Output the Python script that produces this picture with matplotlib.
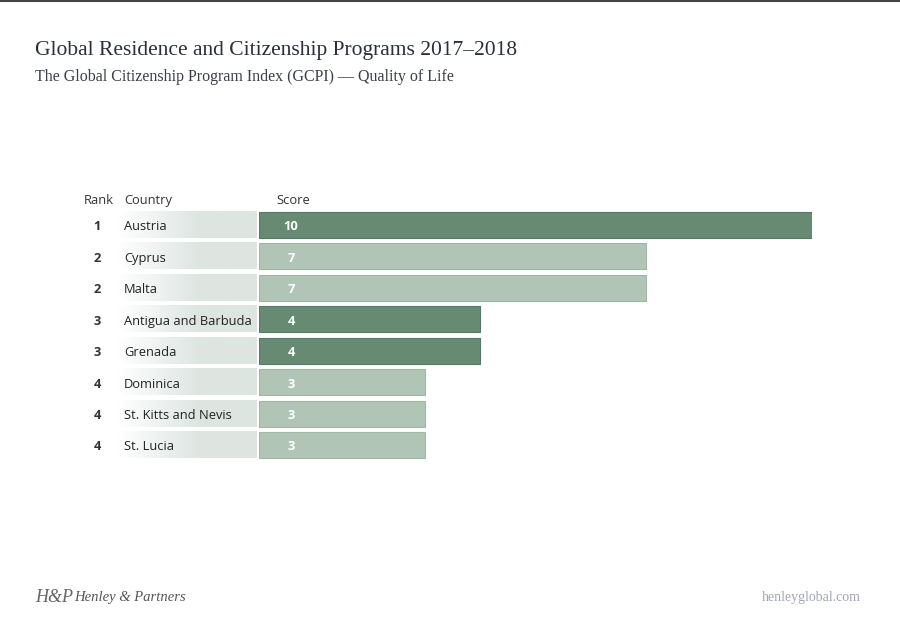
import numpy as np
import matplotlib

matplotlib.use("Agg")
import matplotlib.pyplot as plt
from matplotlib.lines import Line2D
from matplotlib.colors import LinearSegmentedColormap

# --- data ---
ranks = [1, 2, 2, 3, 3, 4, 4, 4]
countries = ["Austria", "Cyprus", "Malta", "Antigua and Barbuda", "Grenada",
             "Dominica", "St. Kitts and Nevis", "St. Lucia"]
scores = [10, 7, 7, 4, 4, 3, 3, 3]

title = "Global Residence and Citizenship Programs 2017\u20132018"
subtitle = "The Global Citizenship Program Index (GCPI) \u2014 Quality of Life"

DARK = "#668a72"
LIGHT = "#b1c5b7"
BOX = "#dde5e1"

W, H = 900, 635
fig = plt.figure(figsize=(9, 6.35), dpi=100)
fig.patch.set_facecolor("white")

# bar axes: x 0..10 -> 259..812 px, rows centred 225..445 px
pitch = (445 - 225) / 7
ax_top = 225 - pitch / 2
ax_bot = 445 + pitch / 2
ax = fig.add_axes([259 / W, 1 - ax_bot / H, (812 - 259) / W, (ax_bot - ax_top) / H])
ax.set_xlim(0, 10)
ax.set_ylim(len(scores) - 0.5, -0.5)
ax.axis("off")

# alternate colour per score group
groups = []
for s in scores:
    if s not in groups:
        groups.append(s)
colors = [DARK if groups.index(s) % 2 == 0 else LIGHT for s in scores]
edges = ["#56786a" if c == DARK else "#a2b6a8" for c in colors]

y = np.arange(len(scores))
ax.barh(y, scores, height=0.83, color=colors, edgecolor=edges, linewidth=0.8)

px = 10 / (812 - 259)  # data units per pixel
dy = 2 / pitch         # small downward nudge for text
grad_cmap = LinearSegmentedColormap.from_list("g", ["white", BOX])
grad = np.clip(np.linspace(0, 1, 256).reshape(1, -1) * 1.7, 0, 1)
font = dict(fontsize=9.3, family="Open Sans")
for i, (r, c, s) in enumerate(zip(ranks, countries, scores)):
    ax.imshow(grad, cmap=grad_cmap, aspect="auto", clip_on=False,
              extent=(-141 * px, -3 * px, i + 0.415, i - 0.415), zorder=1)
    ax.text(-162 * px, i + dy, str(r), ha="center", va="center",
            fontweight="bold", color="#333333", **font)
    ax.text(-135 * px, i + dy, c, ha="left", va="center", color="#222222", **font)
    ax.text(32 * px, i + dy, str(s), ha="center", va="center",
            fontweight="bold", color="white", **font)

hy = (204 - 225) / pitch
for x0, label in [(-175, "Rank"), (-135, "Country"), (17, "Score")]:
    ax.text(x0 * px, hy, label, ha="left", va="baseline", color="#333333", **font)
ax.set_xlim(0, 10)

# titles
fig.text(35 / W, 1 - 50 / H, title, ha="left", va="center", fontsize=15.5,
         family="Liberation Serif", color="#2a2f3a")
fig.text(35 / W, 1 - 77 / H, subtitle, ha="left", va="center", fontsize=11.5,
         family="Liberation Serif", color="#3a3f48")

# footer
fig.text(35 / W, 1 - 597 / H, "H&P", ha="left", va="center", fontsize=13,
         family="Liberation Serif", style="italic", color="#666666")
fig.text(74 / W, 1 - 598 / H, "Henley & Partners", ha="left", va="center",
         fontsize=10.5, family="Liberation Serif", style="italic", color="#555555")
fig.text(861 / W, 1 - 598 / H, "henleyglobal.com", ha="right", va="center",
         fontsize=10, family="Liberation Serif", color="#a0a6b4")

# top rule
fig.add_artist(Line2D([0, 1], [1 - 0.8 / H, 1 - 0.8 / H], color="#444444",
                      linewidth=1.5, transform=fig.transFigure))

fig.savefig("out.png", dpi=100, facecolor="white")
